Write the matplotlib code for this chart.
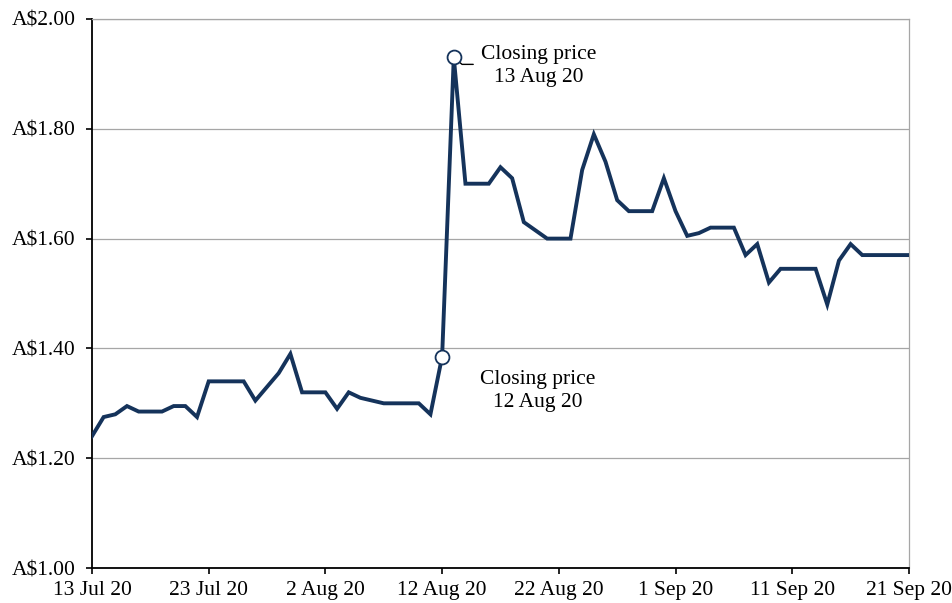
import numpy as np
import pandas as pd
import matplotlib
matplotlib.use('Agg')
import matplotlib.pyplot as plt
from matplotlib.ticker import FuncFormatter

plt.rcParams['font.family'] = ['Liberation Serif', 'DejaVu Serif']

# daily closing price, 13 Jul 20 - 21 Sep 20 (weekends carry Friday's close)
prices_jul = [1.24, 1.275, 1.28, 1.295, 1.285, 1.285, 1.285, 1.295, 1.295, 1.275,
              1.34, 1.34, 1.34, 1.34, 1.305, 1.33, 1.355, 1.39, 1.32]
prices_aug = [1.32, 1.32, 1.29, 1.32, 1.31, 1.305, 1.30, 1.30, 1.30, 1.30,
              1.28, 1.385, 1.93, 1.70, 1.70, 1.70, 1.73, 1.71, 1.63, 1.615,
              1.60, 1.60, 1.60, 1.725, 1.79, 1.74, 1.67, 1.65, 1.65, 1.65, 1.71]
prices_sep = [1.65, 1.605, 1.61, 1.62, 1.62, 1.62, 1.57, 1.59, 1.52, 1.545,
              1.545, 1.545, 1.545, 1.48, 1.56, 1.59, 1.57, 1.57, 1.57, 1.57, 1.57]

prices = prices_jul + prices_aug + prices_sep
dates = pd.date_range('2020-07-13', '2020-09-21', freq='D')

tick_dates = pd.date_range('2020-07-13', '2020-09-21', freq='10D')
tick_labels = ['13 Jul 20', '23 Jul 20', '2 Aug 20', '12 Aug 20',
               '22 Aug 20', '1 Sep 20', '11 Sep 20', '21 Sep 20']

marked_dates = [pd.Timestamp('2020-08-12'), pd.Timestamp('2020-08-13')]
marked_prices = [prices[dates.get_loc(d)] for d in marked_dates]

navy = '#15335B'
grid_grey = '#A6A6A6'
fs = 15.5

fig = plt.figure(figsize=(9.52, 6.03), dpi=100)
ax = fig.add_axes([0.0966, 0.058, 0.8582, 0.9105])

ax.plot(dates, prices, color=navy, lw=2.8, solid_joinstyle='miter', zorder=3)
ax.plot(marked_dates, marked_prices, 'o', ms=10, mfc='white', mec=navy, mew=1.3, zorder=4)

ax.set_ylim(1.0, 2.0)
ax.set_yticks(np.arange(1.0, 2.01, 0.2))
ax.yaxis.set_major_formatter(FuncFormatter(lambda v, p: 'A$%.2f' % v))
ax.set_xlim(dates[0], dates[-1])
ax.set_xticks(tick_dates)
ax.set_xticklabels(tick_labels)

ax.grid(axis='y', color=grid_grey, lw=0.9)
ax.set_axisbelow(True)
for s in ['top', 'right']:
    ax.spines[s].set_color(grid_grey)
    ax.spines[s].set_linewidth(0.9)
for s in ['left', 'bottom']:
    ax.spines[s].set_color('black')
    ax.spines[s].set_linewidth(1.3)
ax.tick_params(axis='both', direction='out', length=4, width=1.2, labelsize=fs, colors='black')
ax.tick_params(axis='y', pad=8)
ax.tick_params(axis='x', pad=5)

# labels for the two marked closes
ax.annotate('Closing price\n13 Aug 20', xy=(marked_dates[1], marked_prices[1]),
            xytext=(61, -6), textcoords='offset points', ha='center', va='center',
            fontsize=fs, linespacing=1.3)
ax.annotate('', xy=(marked_dates[1], marked_prices[1]), xytext=(14, -5),
            textcoords='offset points',
            arrowprops=dict(arrowstyle='-', color='black', lw=1.0, shrinkA=0, shrinkB=5,
                            connectionstyle='angle,angleA=0,angleB=-40'))
ax.annotate('Closing price\n12 Aug 20', xy=(marked_dates[0], marked_prices[0]),
            xytext=(69, -25), textcoords='offset points', ha='center', va='center',
            fontsize=fs, linespacing=1.3)

fig.savefig('out.png', dpi=100)
